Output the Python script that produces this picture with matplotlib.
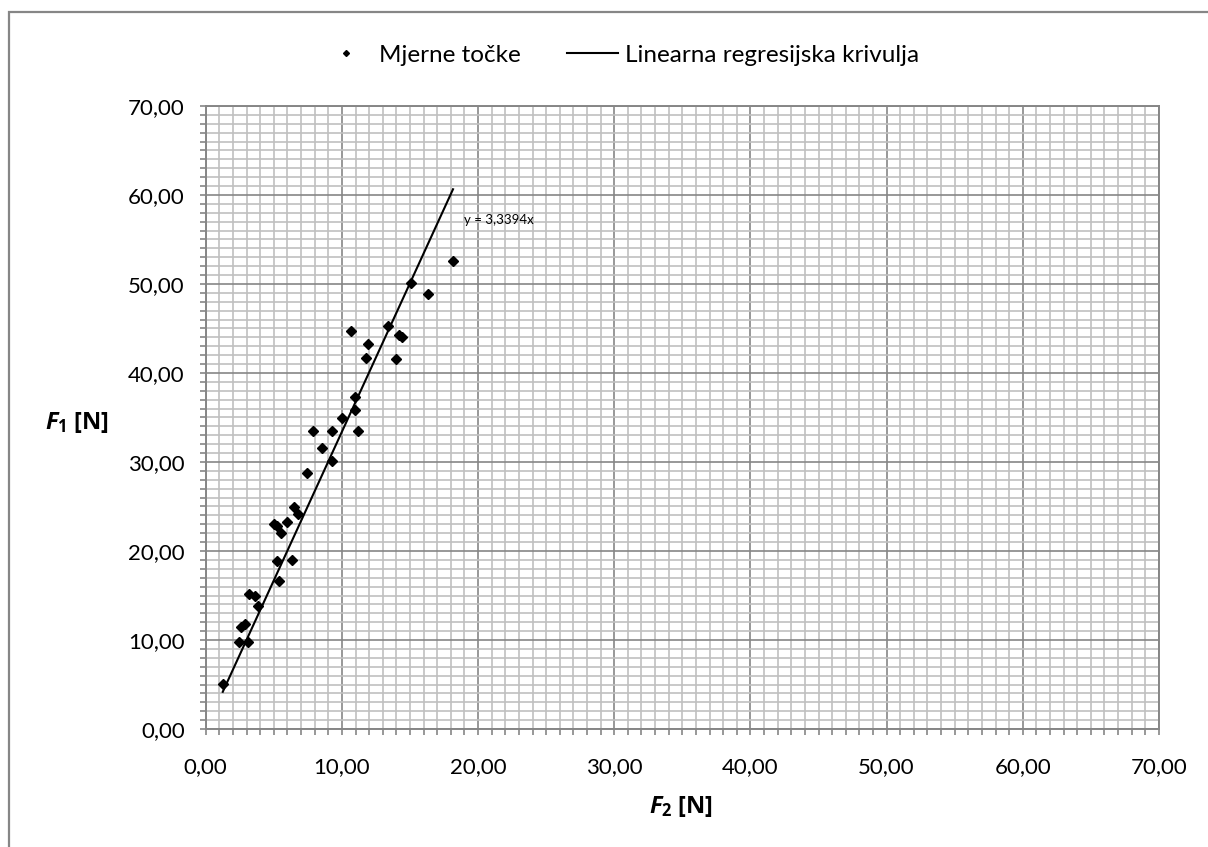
import numpy as np
import matplotlib
matplotlib.use("Agg")
import matplotlib.pyplot as plt
from matplotlib.patches import Rectangle
from matplotlib.ticker import MultipleLocator, FuncFormatter

f2 = [1.25, 2.45, 3.1, 2.6, 2.9, 3.2, 3.6, 3.85, 5.4, 5.2, 6.3, 5.0, 5.2, 5.5,
      6.0, 6.5, 6.8, 7.44, 9.25, 9.3, 7.88, 8.54, 11.2, 10.0, 10.94, 10.98,
      11.8, 11.9, 10.7, 13.4, 13.95, 14.2, 14.4, 15.07, 16.3, 18.16]
f1 = [5.05, 9.8, 9.8, 11.5, 11.8, 15.2, 14.9, 13.8, 16.6, 18.9, 19.0, 23.0,
      22.8, 22.0, 23.3, 24.9, 24.2, 28.8, 30.1, 33.5, 33.5, 31.6, 33.5, 34.9,
      35.8, 37.3, 41.7, 43.3, 44.75, 45.3, 41.6, 44.3, 44.0, 50.1, 48.9, 52.6]
slope = 3.3394

GRID_MAJOR = "#868686"
GRID_MINOR = "#c0c0c0"

plt.rcParams["font.family"] = ["Lato", "DejaVu Sans"]
plt.rcParams["mathtext.fontset"] = "custom"
plt.rcParams["mathtext.it"] = "Open Sans:italic:bold"
plt.rcParams["mathtext.rm"] = "Open Sans:bold"

fig = plt.figure(figsize=(12.08, 8.47), dpi=100)
ax = fig.add_axes([0.1703, 0.1393, 0.7891, 0.7356])

ax.set_xlim(0, 70)
ax.set_ylim(0, 70)
ax.xaxis.set_major_locator(MultipleLocator(10))
ax.yaxis.set_major_locator(MultipleLocator(10))
ax.xaxis.set_minor_locator(MultipleLocator(1))
ax.yaxis.set_minor_locator(MultipleLocator(1))
fmt = FuncFormatter(lambda v, p: f"{v:.2f}".replace(".", ","))
ax.xaxis.set_major_formatter(fmt)
ax.yaxis.set_major_formatter(fmt)

ax.grid(which="minor", color=GRID_MINOR, lw=1.2, zorder=0)
ax.grid(which="major", color=GRID_MAJOR, lw=1.2, zorder=0.5)
ax.set_axisbelow(True)
for s in ax.spines.values():
    s.set_color(GRID_MAJOR)
    s.set_linewidth(1.4)

ax.tick_params(which="both", direction="out", color=GRID_MAJOR, width=1.2,
               length=4, labelsize=16)
ax.tick_params(axis="x", which="major", pad=16)
ax.tick_params(axis="y", which="major", pad=11)

# data + trendline
ax.plot(f2, f1, ls="none", marker="D", ms=5, color="black",
        label="Mjerne točke", zorder=3)
xs = np.array([min(f2), max(f2)])
ax.plot(xs, slope * xs, color="black", lw=1.5,
        label="Linearna regresijska krivulja", zorder=3)
ax.text(19.0, 57.2, "y = 3,3394x", fontsize=9.5, va="center", ha="left")

fig.legend(loc="center", bbox_to_anchor=(0.513, 0.935), ncol=2, frameon=False,
           fontsize=17.5, handlelength=2.1, handletextpad=0.3,
           columnspacing=1.9, markerscale=0.6)

label_kw = dict(fontsize=17, fontweight="bold", ha="center", va="center",
                family=["Open Sans", "DejaVu Sans"])
fig.text(77 / 1208, 1 - 422 / 847, r"$\mathit{F_1}$ [N]", **label_kw)
fig.text(681 / 1208, 1 - 806 / 847, r"$\mathit{F_2}$ [N]", **label_kw)

# outer chart-area border (clipped at right/bottom like the reference)
fig.add_artist(Rectangle((9 / 1208, -0.05), 1.1, 1 - 12 / 847 + 0.05,
                         transform=fig.transFigure, fill=False,
                         edgecolor=GRID_MAJOR, lw=1.6))

fig.savefig("out.png", dpi=100)
